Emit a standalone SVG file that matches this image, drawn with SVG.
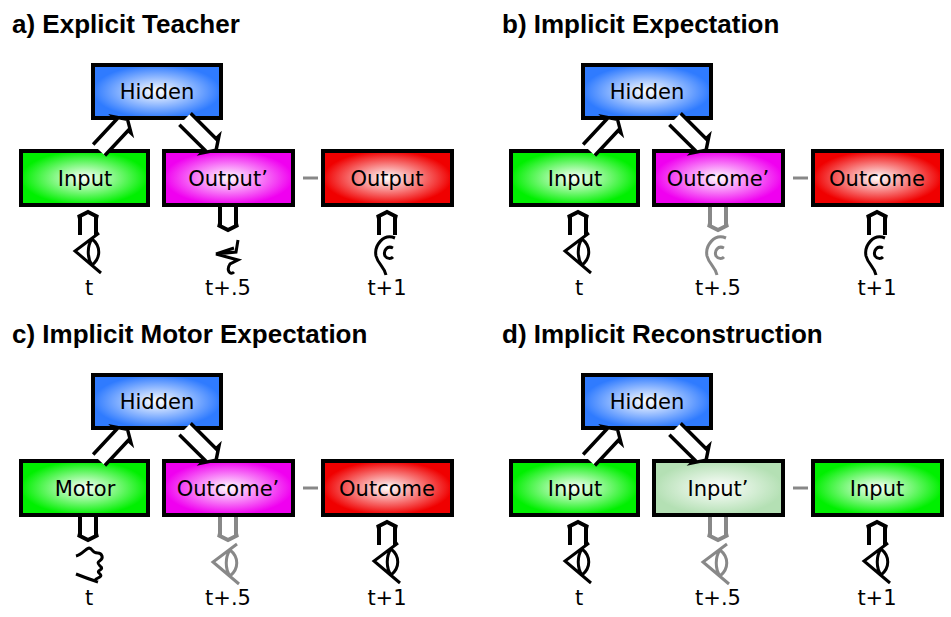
<svg xmlns="http://www.w3.org/2000/svg" xmlns:xlink="http://www.w3.org/1999/xlink" width="951" height="617" viewBox="0 0 951 617">
<defs>
<radialGradient id="gB"><stop offset="0" stop-color="#ffffff"/><stop offset="1" stop-color="#2f7bff"/></radialGradient>
<radialGradient id="gG"><stop offset="0" stop-color="#ffffff"/><stop offset="1" stop-color="#00f000"/></radialGradient>
<radialGradient id="gM"><stop offset="0" stop-color="#ffffff"/><stop offset="1" stop-color="#f000f0"/></radialGradient>
<radialGradient id="gR"><stop offset="0" stop-color="#ffffff"/><stop offset="1" stop-color="#f00000"/></radialGradient>
<radialGradient id="gL"><stop offset="0" stop-color="#ffffff"/><stop offset="1" stop-color="#b4e0b4"/></radialGradient>
<path id="ar" d="M0,-8 L36,-8 L36,-12 L44,0 L36,12 L36,8 L0,8" fill="#fff" stroke-width="3.5"/>
<path id="av" d="M0,-8 L18,-8 L18,-10 L23,0 L18,10 L18,8 L0,8" fill="#fff" stroke-width="4"/>
<path id="eye" d="M11,-19 L-13,-1 L13,21 M4,-13 C13,-6 13,6 4,13 C-1,6 -1,-6 4,-13" fill="none" stroke-width="3"/>
<path id="ear" d="M8,-16 C-4,-21 -13,-8 -11,2 C-9,10 -3,12 -1,21 M6,-6 C0,-9 -4,-3 -2,2 C0,5 4,5 6,3" fill="none" stroke-width="3"/>
<path id="mouth" d="M10,-14 L8,-2 L-12,0 L10,6 L2,10 C-2,16 2,22 6,18 M-12,0 L6,-6" fill="none" stroke-width="3"/>
<path id="hand" d="M-12,-6 C-4,-8 0,-18 4,-12 C8,-6 12,-12 14,-6 C16,0 6,-2 12,4 C18,8 6,8 12,12 C16,16 4,16 8,20 M-12,12 C-2,16 4,18 10,20" fill="none" stroke-width="3"/>
</defs>
<style>
.t{font-family:"Liberation Sans",Arial,sans-serif;font-weight:bold;font-size:26px;fill:#000}
.n{font-family:"DejaVu Sans","Liberation Sans",sans-serif;font-size:21px;fill:#000;text-anchor:middle}
.l{font-family:"DejaVu Sans","Liberation Sans",sans-serif;font-size:21px;fill:#000;text-anchor:middle}
rect{stroke:#000;stroke-width:4}
.k{stroke:#000}
.g{stroke:#888}
.d{stroke:#888;stroke-width:3}
</style>

<g id="panelA">
<text class="t" x="12" y="33">a) Explicit Teacher</text>
<g id="a-hidden"><rect x="93" y="65" width="128" height="53" fill="url(#gB)"/><text class="n" x="157" y="99">Hidden</text></g>
<g id="a-input"><rect x="21" y="151" width="127" height="54" fill="url(#gG)"/><text class="n" x="85" y="186">Input</text></g>
<g id="a-outp"><rect x="164" y="151" width="129" height="54" fill="url(#gM)"/><text class="n" x="228" y="186">Output’</text></g>
<g id="a-out"><rect x="323" y="151" width="129" height="54" fill="url(#gR)"/><text class="n" x="387" y="186">Output</text></g>
<g id="a-conn">
<line class="d" x1="303" y1="178" x2="318" y2="178"/>
<use href="#ar" class="k" transform="translate(99,150) rotate(-47) scale(0.95,1)"/>
<use href="#ar" class="k" transform="translate(185,119) rotate(45)"/>
<use href="#av" class="k" transform="translate(88,235) rotate(-90)"/>
<use href="#av" class="k" transform="translate(228,207) rotate(90)"/>
<use href="#av" class="k" transform="translate(387,235) rotate(-90)"/>
</g>
<use href="#eye" class="k" x="88" y="252"/>
<use href="#mouth" class="k" x="228" y="254"/>
<use href="#ear" class="k" x="387" y="254"/>
<text class="l" x="89" y="295">t</text><text class="l" x="228" y="295">t+.5</text><text class="l" x="387" y="295">t+1</text>
</g>

<g id="panelB" transform="translate(490,0)">
<text class="t" x="12" y="33">b) Implicit Expectation</text>
<g id="b-hidden"><rect x="93" y="65" width="128" height="53" fill="url(#gB)"/><text class="n" x="157" y="99">Hidden</text></g>
<g id="b-input"><rect x="21" y="151" width="127" height="54" fill="url(#gG)"/><text class="n" x="85" y="186">Input</text></g>
<g id="b-outp"><rect x="164" y="151" width="129" height="54" fill="url(#gM)"/><text class="n" x="228" y="186">Outcome’</text></g>
<g id="b-out"><rect x="323" y="151" width="129" height="54" fill="url(#gR)"/><text class="n" x="387" y="186">Outcome</text></g>
<g id="b-conn">
<line class="d" x1="303" y1="178" x2="318" y2="178"/>
<use href="#ar" class="k" transform="translate(99,150) rotate(-47) scale(0.95,1)"/>
<use href="#ar" class="k" transform="translate(185,119) rotate(45)"/>
<use href="#av" class="k" transform="translate(88,235) rotate(-90)"/>
<use href="#av" class="g" transform="translate(228,207) rotate(90)"/>
<use href="#av" class="k" transform="translate(387,235) rotate(-90)"/>
</g>
<use href="#eye" class="k" x="88" y="252"/>
<use href="#ear" class="g" x="228" y="254"/>
<use href="#ear" class="k" x="387" y="254"/>
<text class="l" x="89" y="295">t</text><text class="l" x="228" y="295">t+.5</text><text class="l" x="387" y="295">t+1</text>
</g>

<g id="panelC" transform="translate(0,310)">
<text class="t" x="12" y="33">c) Implicit Motor Expectation</text>
<g id="c-hidden"><rect x="93" y="65" width="128" height="53" fill="url(#gB)"/><text class="n" x="157" y="99">Hidden</text></g>
<g id="c-motor"><rect x="21" y="151" width="127" height="54" fill="url(#gG)"/><text class="n" x="85" y="186">Motor</text></g>
<g id="c-outp"><rect x="164" y="151" width="129" height="54" fill="url(#gM)"/><text class="n" x="228" y="186">Outcome’</text></g>
<g id="c-out"><rect x="323" y="151" width="129" height="54" fill="url(#gR)"/><text class="n" x="387" y="186">Outcome</text></g>
<g id="c-conn">
<line class="d" x1="303" y1="178" x2="318" y2="178"/>
<use href="#ar" class="k" transform="translate(99,150) rotate(-47) scale(0.95,1)"/>
<use href="#ar" class="k" transform="translate(185,119) rotate(45)"/>
<use href="#av" class="k" transform="translate(88,207) rotate(90)"/>
<use href="#av" class="g" transform="translate(228,207) rotate(90)"/>
<use href="#av" class="k" transform="translate(387,235) rotate(-90)"/>
</g>
<use href="#hand" class="k" x="88" y="252"/>
<use href="#eye" class="g" x="226" y="253"/>
<use href="#eye" class="k" x="387" y="252"/>
<text class="l" x="89" y="295">t</text><text class="l" x="228" y="295">t+.5</text><text class="l" x="387" y="295">t+1</text>
</g>

<g id="panelD" transform="translate(490,310)">
<text class="t" x="12" y="33">d) Implicit Reconstruction</text>
<g id="d-hidden"><rect x="93" y="65" width="128" height="53" fill="url(#gB)"/><text class="n" x="157" y="99">Hidden</text></g>
<g id="d-input"><rect x="21" y="151" width="127" height="54" fill="url(#gG)"/><text class="n" x="85" y="186">Input</text></g>
<g id="d-inp"><rect x="164" y="151" width="129" height="54" fill="url(#gL)"/><text class="n" x="228" y="186">Input’</text></g>
<g id="d-in2"><rect x="323" y="151" width="129" height="54" fill="url(#gG)"/><text class="n" x="387" y="186">Input</text></g>
<g id="d-conn">
<line class="d" x1="303" y1="178" x2="318" y2="178"/>
<use href="#ar" class="k" transform="translate(99,150) rotate(-47) scale(0.95,1)"/>
<use href="#ar" class="k" transform="translate(185,119) rotate(45)"/>
<use href="#av" class="k" transform="translate(88,235) rotate(-90)"/>
<use href="#av" class="g" transform="translate(228,207) rotate(90)"/>
<use href="#av" class="k" transform="translate(387,235) rotate(-90)"/>
</g>
<use href="#eye" class="k" x="88" y="252"/>
<use href="#eye" class="g" x="226" y="253"/>
<use href="#eye" class="k" x="387" y="252"/>
<text class="l" x="89" y="295">t</text><text class="l" x="228" y="295">t+.5</text><text class="l" x="387" y="295">t+1</text>
</g>
</svg>
